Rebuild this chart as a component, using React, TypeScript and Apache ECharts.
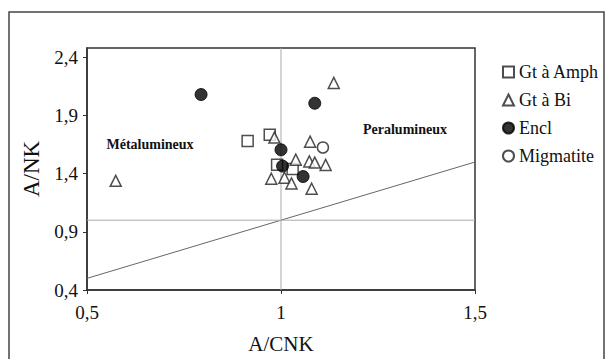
import React, { useEffect, useRef } from "react";
import * as echarts from "echarts";

const gtAmph: [number, number][] = [
  [0.914, 1.68], [0.971, 1.735], [0.99, 1.477], [1.03, 1.44],
];
const gtBi: [number, number][] = [
  [0.574, 1.338], [1.136, 2.18], [0.983, 1.71], [1.075, 1.675], [1.038, 1.52],
  [1.073, 1.505], [1.087, 1.495], [1.115, 1.475], [0.975, 1.356], [1.009, 1.365],
  [1.027, 1.316], [1.079, 1.27],
];
const encl: [number, number][] = [
  [0.794, 2.08], [1.087, 2.005], [1.0, 1.605], [1.004, 1.465], [1.057, 1.375],
];
const migmatite: [number, number][] = [[1.108, 1.625]];

const diagonal: [number, number][] = [[0.5, 0.5], [1.5, 1.5]];
const vLine: [number, number][] = [[1, 0.4], [1, 2.48]];
const hLine: [number, number][] = [[0.5, 1], [1.5, 1]];

const seriesNames = ["Gt à Amph", "Gt à Bi", "Encl", "Migmatite"];
const regionLabels = ["Métalumineux", "Peralumineux"];
const xTitle = "A/CNK";
const yTitle = "A/NK";

const FONT = "Liberation Serif, serif";

export default function App() {
  const ref = useRef<HTMLDivElement>(null);
  useEffect(() => {
    document.body.style.margin = "0";
    const chart = echarts.init(ref.current!, null, { renderer: "svg" });
    const fmt = (v: number) => {
      const r = Math.round(v * 10) / 10;
      return (Number.isInteger(r) ? String(r) : r.toFixed(1)).replace(".", ",");
    };
    const refLine = (data: [number, number][], color: string) => ({
      type: "line",
      data,
      symbol: "none",
      silent: true,
      lineStyle: { color, width: 1 },
      z: 1,
    });
    chart.setOption({
      animation: false,
      backgroundColor: "#fff",
      textStyle: { fontFamily: FONT },
      grid: {
        left: 87, right: 131, top: 48, bottom: 67,
        show: true, borderColor: "#333", borderWidth: 1.5,
      },
      xAxis: {
        type: "value", min: 0.5, max: 1.5, interval: 0.5,
        name: xTitle, nameLocation: "middle", nameGap: 43,
        nameTextStyle: { fontFamily: FONT, fontSize: 21, color: "#111" },
        axisLine: { show: true, onZero: false, lineStyle: { color: "#333", width: 1.5 } },
        axisTick: { show: true, length: 4, lineStyle: { color: "#333" } },
        axisLabel: { fontFamily: FONT, fontSize: 19, color: "#111", margin: 13, formatter: fmt },
        splitLine: { show: false },
      },
      yAxis: {
        type: "value", min: 0.4, max: 2.48, interval: 0.5,
        name: yTitle, nameLocation: "middle", nameGap: 44,
        nameTextStyle: { fontFamily: FONT, fontSize: 23, color: "#111" },
        axisLine: { show: true, onZero: false, lineStyle: { color: "#333", width: 1.5 } },
        axisTick: { show: true, length: 4, lineStyle: { color: "#333" } },
        axisLabel: { fontFamily: FONT, fontSize: 19, color: "#111", margin: 9, formatter: fmt, showMaxLabel: false },
        splitLine: { show: false },
      },
      legend: {
        orient: "vertical", left: 497, top: 58, itemGap: 10,
        itemWidth: 11, itemHeight: 11,
        textStyle: { fontFamily: FONT, fontSize: 18, color: "#111" },
        data: seriesNames,
      },
      graphic: [
        {
          type: "rect", shape: { x: 9, y: 12, width: 595, height: 400 },
          style: { fill: "none", stroke: "#444", lineWidth: 1.5 }, silent: true, z: -1,
        },
        {
          type: "text", x: 150, y: 144,
          style: { text: regionLabels[0], font: `bold 14px ${FONT}`, fill: "#111", textAlign: "center", textVerticalAlign: "middle" },
        },
        {
          type: "text", x: 405, y: 129,
          style: { text: regionLabels[1], font: `bold 14px ${FONT}`, fill: "#111", textAlign: "center", textVerticalAlign: "middle" },
        },
      ],
      series: [
        refLine(diagonal, "#666"),
        refLine(vLine, "#aaa"),
        refLine(hLine, "#aaa"),
        {
          name: seriesNames[0], type: "scatter", data: gtAmph, symbol: "rect", symbolSize: 11,
          itemStyle: { color: "#fff", borderColor: "#222", borderWidth: 1.5 }, z: 3,
        },
        {
          name: seriesNames[1], type: "scatter", data: gtBi, symbol: "triangle", symbolSize: 11,
          itemStyle: { color: "#fff", borderColor: "#222", borderWidth: 1.5 }, z: 4,
        },
        {
          name: seriesNames[2], type: "scatter", data: encl, symbol: "circle", symbolSize: 12,
          itemStyle: { color: "#000", borderColor: "#000", borderWidth: 1 }, z: 5,
        },
        {
          name: seriesNames[3], type: "scatter", data: migmatite, symbol: "circle", symbolSize: 11,
          itemStyle: { color: "#fff", borderColor: "#222", borderWidth: 1.5 }, z: 5,
        },
      ],
    });
    return () => chart.dispose();
  }, []);
  return <div ref={ref} style={{ width: 606, height: 359 }} />;
}
